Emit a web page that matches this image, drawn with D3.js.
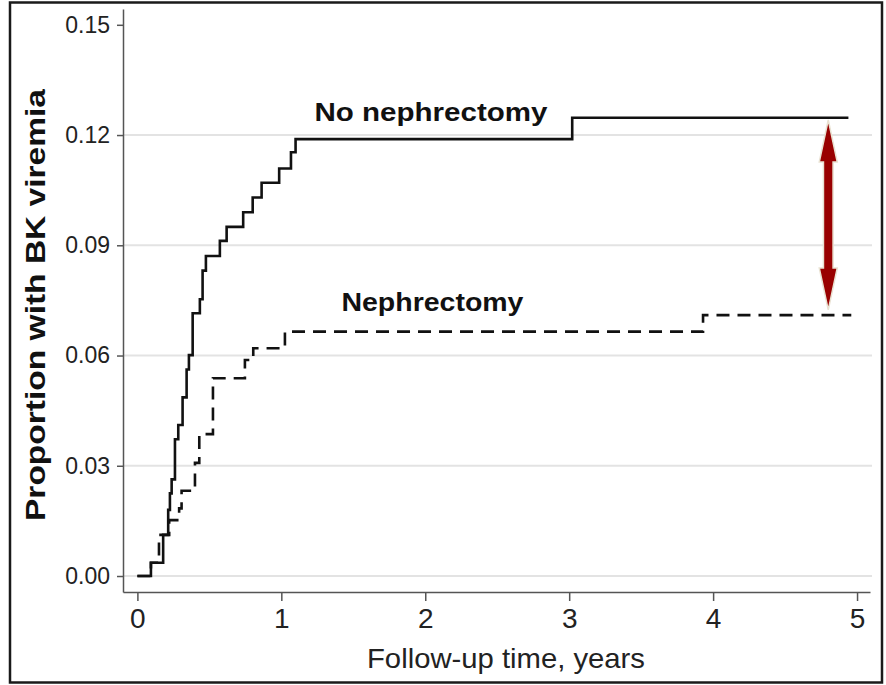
<!DOCTYPE html>
<html>
<head>
<meta charset="utf-8">
<script src="https://cdn.jsdelivr.net/npm/d3@7"></script>
<style>
  html, body { margin: 0; padding: 0; background: #fff; }
  svg { display: block; font-family: "Liberation Sans", Arial, sans-serif; }
</style>
</head>
<body>
<svg id="chart" width="886" height="685"></svg>
<script>
// ---- Data ----
const timeNoNeph = [0, 0.094, 0.179, 0.214, 0.226, 0.238, 0.261, 0.284, 0.314, 0.342, 0.358, 0.384, 0.434, 0.453, 0.476, 0.573, 0.620, 0.735, 0.801, 0.863, 0.985, 1.067, 1.099, 3.021, 4.94];
const propNoNeph = [0, 0.0036, 0.0112, 0.0180, 0.0225, 0.0263, 0.0372, 0.0411, 0.0486, 0.0562, 0.0601, 0.0715, 0.0753, 0.0831, 0.0871, 0.0912, 0.0950, 0.0990, 0.1030, 0.1070, 0.1109, 0.1153, 0.1189, 0.1247, 0.1247];

const timeNeph = [0, 0.094, 0.150, 0.221, 0.290, 0.307, 0.400, 0.430, 0.525, 0.747, 0.805, 1.025, 3.930, 4.96];
const propNeph = [0, 0.0036, 0.0112, 0.0152, 0.0184, 0.0232, 0.0308, 0.0386, 0.0538, 0.0588, 0.0620, 0.0665, 0.0710, 0.0710];

const xTicks = [0, 1, 2, 3, 4, 5];
const yTicks = [0, 0.03, 0.06, 0.09, 0.12, 0.15];
const gridTicks = [0, 0.03, 0.06, 0.09, 0.12];

const seriesLabels = ["No nephrectomy", "Nephrectomy"];
const labelX = [2.04, 2.05];
const labelY = [0.1239, 0.0722];

const arrowX = 4.80;
const arrowFrom = 0.1241;
const arrowTo = 0.0724;

const xTitle = "Follow-up time, years";
const yTitle = "Proportion with BK viremia";

// ---- Layout ----
const svg = d3.select("#chart");

const x = d3.scaleLinear().domain([-0.1, 5.09]).range([123, 870]);
const y = d3.scaleLinear().domain([-0.00435, 0.1543]).range([592, 9]);

// outer frame
svg.append("rect")
  .attr("x", 10).attr("y", 2.5).attr("width", 872).attr("height", 680)
  .attr("fill", "none").attr("stroke", "#1a1a1a").attr("stroke-width", 2.5);

// gridlines
svg.append("g").selectAll("line").data(gridTicks).join("line")
  .attr("x1", x.range()[0]).attr("x2", 872)
  .attr("y1", d => y(d)).attr("y2", d => y(d))
  .attr("stroke", "#e3e3e3").attr("stroke-width", 2);

// y axis
const yAxis = svg.append("g").attr("transform", `translate(${x.range()[0]},0)`)
  .call(d3.axisLeft(y).tickValues(yTicks).tickFormat(d3.format(".2f"))
        .tickSize(6).tickSizeOuter(0).tickPadding(7));
yAxis.select(".domain").attr("stroke", "#555").attr("stroke-width", 1.5);
yAxis.selectAll(".tick line").attr("stroke", "#555").attr("stroke-width", 1.5);
yAxis.selectAll(".tick text").attr("font-size", 23).attr("fill", "#222")
  .attr("font-family", "Liberation Sans, Arial, sans-serif");

// x axis
const xAxis = svg.append("g").attr("transform", `translate(0,${y.range()[0]})`)
  .call(d3.axisBottom(x).tickValues(xTicks).tickFormat(d3.format("d"))
        .tickSize(9).tickSizeOuter(0).tickPadding(7));
xAxis.select(".domain").attr("stroke", "#555").attr("stroke-width", 1.5);
xAxis.selectAll(".tick line").attr("stroke", "#555").attr("stroke-width", 1.5);
xAxis.selectAll(".tick text").attr("font-size", 28).attr("fill", "#222")
  .attr("font-family", "Liberation Sans, Arial, sans-serif");

// curves
const line = d3.line().x(d => x(d[0])).y(d => y(d[1])).curve(d3.curveStepAfter);
const solidPts = timeNoNeph.map((t, i) => [t, propNoNeph[i]]);
const dashPts = timeNeph.map((t, i) => [t, propNeph[i]]);

svg.append("path").datum(dashPts)
  .attr("d", line).attr("fill", "none").attr("stroke", "#111")
  .attr("stroke-width", 2.6).attr("stroke-dasharray", "13,8");

svg.append("path").datum(solidPts)
  .attr("d", line).attr("fill", "none").attr("stroke", "#111")
  .attr("stroke-width", 2.6);

// series labels
const lblLen = [233, 182];
svg.append("g").selectAll("text").data(seriesLabels).join("text")
  .attr("x", (d, i) => x(labelX[i])).attr("y", (d, i) => y(labelY[i]))
  .attr("text-anchor", "middle")
  .attr("font-size", 26).attr("font-weight", "bold").attr("fill", "#111")
  .attr("textLength", (d, i) => lblLen[i]).attr("lengthAdjust", "spacingAndGlyphs")
  .text(d => d);

// double-headed arrow
const ax = x(arrowX), ay1 = y(arrowFrom), ay2 = y(arrowTo);
const hw = 9, sw = 4.8, hl = 42;
const arrowPath = [
  [ax, ay1], [ax + hw, ay1 + hl], [ax + sw, ay1 + hl], [ax + sw, ay2 - hl], [ax + hw, ay2 - hl],
  [ax, ay2], [ax - hw, ay2 - hl], [ax - sw, ay2 - hl], [ax - sw, ay1 + hl], [ax - hw, ay1 + hl]
];
svg.append("path")
  .attr("d", d3.line()(arrowPath) + "Z")
  .attr("fill", "#990000").attr("stroke", "#e9e2d2").attr("stroke-width", 1.5)
  .attr("stroke-linejoin", "miter");

// axis titles
svg.append("text")
  .attr("x", 506).attr("y", 668)
  .attr("text-anchor", "middle").attr("font-size", 28).attr("fill", "#222")
  .attr("textLength", 278).attr("lengthAdjust", "spacingAndGlyphs")
  .text(xTitle);

svg.append("text")
  .attr("transform", "translate(45,305) rotate(-90)")
  .attr("text-anchor", "middle").attr("font-size", 27).attr("font-weight", "bold").attr("fill", "#111")
  .attr("textLength", 432).attr("lengthAdjust", "spacingAndGlyphs")
  .text(yTitle);
</script>
</body>
</html>
